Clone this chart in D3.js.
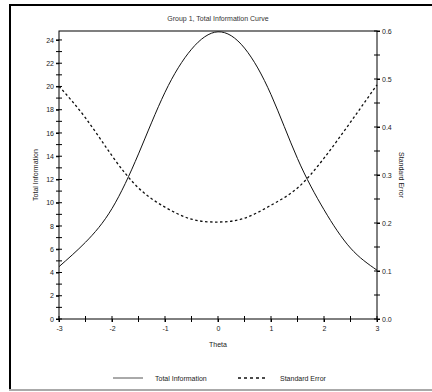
<!DOCTYPE html>
<html>
<head>
<meta charset="utf-8">
<script src="https://cdn.jsdelivr.net/npm/d3@7/dist/d3.min.js"></script>
<style>
  body { margin: 0; background: #fff; }
  svg { display: block; font-family: "Liberation Sans", Arial, sans-serif; }
</style>
</head>
<body>
<div id="chart"></div>
<script>
// values
var theta = [-3, -2.5, -2, -1.5, -1, -0.5, 0, 0.5, 1, 1.5, 2, 2.5, 3];
var totalInfo = [4.5, 6.6, 9.5, 14.2, 19.5, 23.2, 24.7, 23.3, 19.3, 13.8, 9.4, 6.1, 4.2];
var stdError = [0.485, 0.419, 0.340, 0.273, 0.233, 0.208, 0.202, 0.210, 0.237, 0.273, 0.335, 0.410, 0.488];
var xTickLabels = [-3, -2, -1, 0, 1, 2, 3];
var leftTickLabels = [0, 2, 4, 6, 8, 10, 12, 14, 16, 18, 20, 22, 24];
var rightTickLabels = [0, 0.1, 0.2, 0.3, 0.4, 0.5, 0.6];

var W = 432, H = 392;
var margin = {top: 31, right: 55, bottom: 73, left: 59},
    width = 377 - margin.left,
    height = 319 - margin.top;

var svg = d3.select("#chart").append("svg")
  .attr("width", W).attr("height", H);

// outer frame
svg.append("line").attr("x1", 9).attr("x2", W).attr("y1", 5).attr("y2", 5)
  .attr("stroke", "#000").attr("stroke-width", 2);
svg.append("line").attr("x1", 10).attr("x2", 10).attr("y1", 4).attr("y2", 390)
  .attr("stroke", "#000").attr("stroke-width", 2);
svg.append("line").attr("x1", 9).attr("x2", W).attr("y1", 390).attr("y2", 390)
  .attr("stroke", "#aaa").attr("stroke-width", 2);

var g = svg.append("g").attr("transform", "translate(" + margin.left + "," + margin.top + ")");

var x = d3.scaleLinear().domain([-3, 3]).range([0, width]);
var yL = d3.scaleLinear().domain([0, 24.77]).range([height, 0]);
var yR = d3.scaleLinear().domain([0, 0.6]).range([height, 0]);

// plot box
g.append("rect").attr("width", width).attr("height", height)
  .attr("fill", "none").attr("stroke", "#000").attr("stroke-width", 1);

function ticks(sel) {
  sel.selectAll(".domain").remove();
  sel.selectAll("line").attr("stroke", "#000");
  sel.selectAll("text").attr("fill", "#222").style("font-size", "7px");
}
var hyphen = function(f){ return function(d){ return f(d).replace("\u2212", "-"); }; };

// minor ticks crossing the axis line
var xMinor = d3.range(-3, 3.01, 0.5);
g.append("g").selectAll("line").data(xMinor).enter().append("line")
  .attr("x1", function(d){ return x(d); }).attr("x2", function(d){ return x(d); })
  .attr("y1", height - 3).attr("y2", height + 3).attr("stroke", "#000");
g.append("g").selectAll("line").data(d3.range(0, 25, 1)).enter().append("line")
  .attr("x1", -3).attr("x2", 3)
  .attr("y1", function(d){ return yL(d); }).attr("y2", function(d){ return yL(d); })
  .attr("stroke", "#000");
g.append("g").selectAll("line").data(d3.range(0, 0.601, 0.05)).enter().append("line")
  .attr("x1", width - 3).attr("x2", width + 3)
  .attr("y1", function(d){ return yR(d); }).attr("y2", function(d){ return yR(d); })
  .attr("stroke", "#000");

g.append("g").attr("transform", "translate(0," + height + ")")
  .call(d3.axisBottom(x).tickValues(xTickLabels).tickSize(3).tickPadding(4).tickFormat(hyphen(d3.format("d"))))
  .call(ticks);
g.append("g")
  .call(d3.axisLeft(yL).tickValues(leftTickLabels).tickSize(3).tickPadding(2).tickFormat(d3.format("d")))
  .call(ticks);
g.append("g").attr("transform", "translate(" + width + ",0)")
  .call(d3.axisRight(yR).tickValues(rightTickLabels).tickSize(3).tickPadding(2).tickFormat(d3.format(".1f")))
  .call(ticks);

// curves
var infoLine = d3.line()
  .x(function(d, i){ return x(theta[i]); })
  .y(function(d){ return yL(d); })
  .curve(d3.curveNatural);
var seLine = d3.line()
  .x(function(d, i){ return x(theta[i]); })
  .y(function(d){ return yR(d); })
  .curve(d3.curveNatural);

g.append("path").datum(totalInfo).attr("d", infoLine)
  .attr("fill", "none").attr("stroke", "#111").attr("stroke-width", 1);
g.append("path").datum(stdError).attr("d", seLine)
  .attr("fill", "none").attr("stroke", "#111").attr("stroke-width", 1.3)
  .attr("stroke-dasharray", "2.5,2.5");

// texts
svg.append("text").attr("x", 218).attr("y", 21).attr("text-anchor", "middle")
  .style("font-size", "7px").attr("fill", "#333").text("Group 1, Total Information Curve");
svg.append("text").attr("x", 218).attr("y", 347).attr("text-anchor", "middle")
  .style("font-size", "7px").attr("fill", "#222").text("Theta");
svg.append("text").attr("transform", "translate(38,175) rotate(-90)").attr("text-anchor", "middle")
  .style("font-size", "7px").attr("fill", "#222").text("Total Information");
svg.append("text").attr("transform", "translate(399,175) rotate(90)").attr("text-anchor", "middle")
  .style("font-size", "7px").attr("fill", "#222").text("Standard Error");

// legend
var legend = svg.append("g");
legend.append("line").attr("x1", 113).attr("x2", 143).attr("y1", 378).attr("y2", 378)
  .attr("stroke", "#555").attr("stroke-width", 1);
legend.append("text").attr("x", 155).attr("y", 380.5).style("font-size", "7px").attr("fill", "#222")
  .text("Total Information");
legend.append("line").attr("x1", 238).attr("x2", 268).attr("y1", 378).attr("y2", 378)
  .attr("stroke", "#111").attr("stroke-width", 1.5).attr("stroke-dasharray", "3,3");
legend.append("text").attr("x", 280).attr("y", 380.5).style("font-size", "7px").attr("fill", "#222")
  .text("Standard Error");
</script>
</body>
</html>
